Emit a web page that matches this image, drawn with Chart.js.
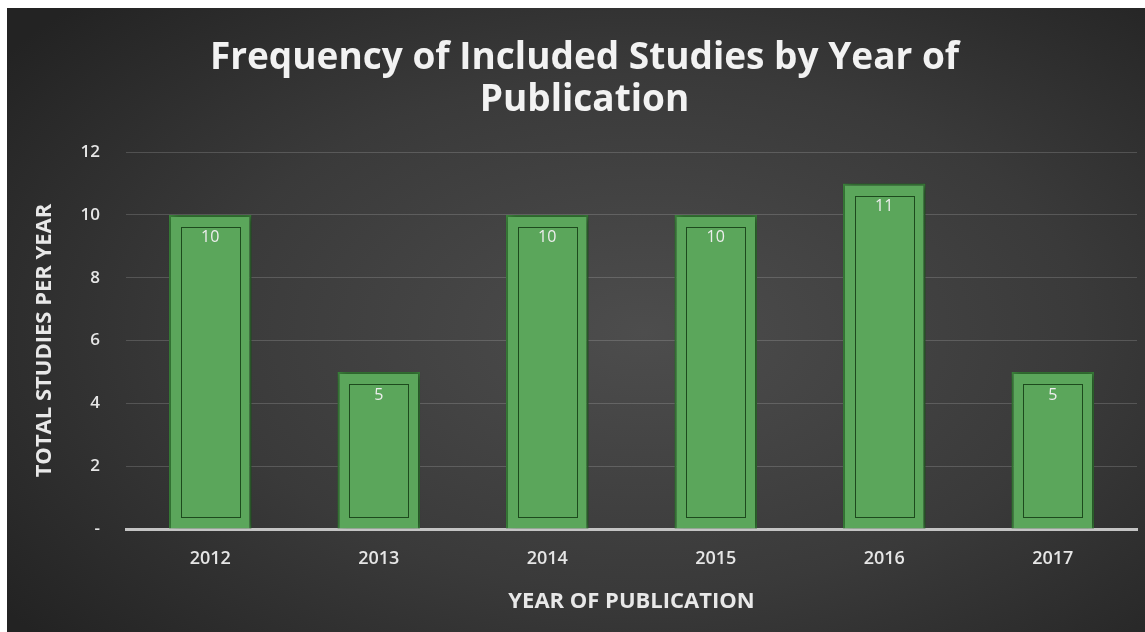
<!DOCTYPE html>
<html>
<head>
<meta charset="utf-8">
<script src="https://cdn.jsdelivr.net/npm/chart.js@4.4.0/dist/chart.umd.min.js"></script>
<style>
    html, body { margin: 0; padding: 0; background: #ffffff; }
    #wrap {
        position: absolute; left: 7px; top: 8px; width: 1138px; height: 624px;
        background: radial-gradient(ellipse 70% 75% at 56% 52%, #4d4d4d 0%, #3a3a3a 55%, #232323 100%);
    }
    canvas { display: block; }
</style>
</head>
<body>
<div id="wrap"><canvas id="yearChart" width="1138" height="624"></canvas></div>
<script>
// 数据
const years = ['2012', '2013', '2014', '2015', '2016', '2017'];
const studyCounts = [10, 5, 10, 10, 11, 5];
const yTicks = [0, 2, 4, 6, 8, 10, 12];

const FONT = '"Open Sans", "DejaVu Sans", sans-serif';

// 柱子阴影 + 内框 + 数值标签
const barDecor = {
    id: 'barDecor',
    beforeDatasetsDraw(chart) {
        const ctx = chart.ctx;
        ctx.save();
        ctx.shadowColor = 'rgba(0,0,0,0.55)';
        ctx.shadowBlur = 8;
        ctx.shadowOffsetX = 2;
        ctx.shadowOffsetY = 0;
    },
    afterDatasetsDraw(chart) {
        const ctx = chart.ctx;
        ctx.restore();
        const meta = chart.getDatasetMeta(0);
        const values = chart.data.datasets[0].data;
        ctx.save();
        meta.data.forEach((bar, i) => {
            const left = bar.x - bar.width / 2;
            const right = bar.x + bar.width / 2;
            const top = bar.y;
            const bottom = bar.base;
            // 内框
            ctx.strokeStyle = '#1d4a1d';
            ctx.lineWidth = 1;
            ctx.strokeRect(Math.round(left + 12) + 0.5, Math.round(top + 12) + 0.5,
                Math.round(right - left - 24), Math.round(bottom - top - 24));
            // 数值
            ctx.fillStyle = '#eeeeee';
            ctx.font = '16px ' + FONT;
            ctx.textAlign = 'center';
            ctx.textBaseline = 'middle';
            ctx.fillText(values[i], bar.x, top + 23);
        });
        ctx.restore();
    }
};

const ctx = document.getElementById('yearChart').getContext('2d');
const yearChart = new Chart(ctx, {
    type: 'bar',
    data: {
        labels: years,
        datasets: [{
            data: studyCounts,
            backgroundColor: '#5ba65b',
            borderColor: '#3c863c',
            borderWidth: 2,
            categoryPercentage: 1.0,
            barPercentage: 0.49
        }]
    },
    options: {
        responsive: false,
        animation: false,
        devicePixelRatio: 1,
        layout: { padding: { top: 19, right: 8, bottom: 17, left: 25 } },
        plugins: {
            legend: { display: false },
            tooltip: { enabled: false },
            title: {
                display: true,
                text: ['Frequency of Included Studies by Year of', 'Publication'],
                color: '#f2f2f2',
                font: { family: FONT, size: 37, weight: 'bold', lineHeight: 1.15 },
                padding: { top: 10, bottom: 30 }
            }
        },
        scales: {
            x: {
                grid: { display: false, drawTicks: false },
                border: { display: true, color: '#c4c4c4', width: 3 },
                ticks: {
                    color: '#e6e6e6',
                    font: { family: FONT, size: 18, weight: '600' },
                    padding: 19
                },
                title: {
                    display: true,
                    text: 'YEAR OF PUBLICATION',
                    color: '#e8e8e8',
                    font: { family: FONT, size: 22, weight: 'bold' },
                    padding: { top: 0, bottom: 0 }
                }
            },
            y: {
                min: 0,
                max: 12,
                afterBuildTicks: scale => {
                    scale.ticks = yTicks.map(v => ({ value: v }));
                },
                afterFit: scale => { scale.width = 94; },
                grid: { color: 'rgba(255,255,255,0.16)', lineWidth: 1, drawTicks: false },
                border: { display: false },
                ticks: {
                    color: '#e6e6e6',
                    font: { family: FONT, size: 17, weight: '600' },
                    padding: 26,
                    callback: v => (v === 0 ? '-' : v)
                },
                title: {
                    display: true,
                    text: 'TOTAL STUDIES PER YEAR',
                    color: '#e8e8e8',
                    font: { family: FONT, size: 22, weight: 'bold' },
                    padding: { top: 0, bottom: 0 }
                }
            }
        }
    },
    plugins: [barDecor]
});
</script>
</body>
</html>
